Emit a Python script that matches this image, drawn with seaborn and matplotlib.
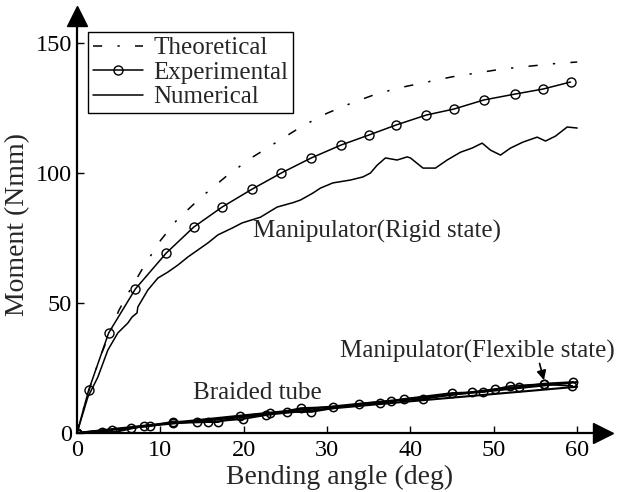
import matplotlib
matplotlib.use('Agg')
import matplotlib.pyplot as plt
import pandas as pd
import seaborn as sns

# --- rigid state -------------------------------------------------------------
theo_x = [0, 1, 2, 3, 4, 5, 6, 8, 10, 12, 15, 18, 21, 24, 27, 30, 33, 36, 39,
          42, 45, 48, 51, 54, 57, 60]
theo_y = [0, 12, 22, 31, 39, 47, 53, 64, 74, 82, 91, 99, 106, 112, 118, 123,
          127, 130.5, 133, 135, 137, 138.5, 140, 141, 142, 142.7]

exp_x = [0, 1.4, 3.8, 7.0, 10.7, 14.0, 17.4, 21.0, 24.5, 28.1, 31.7, 35.0,
         38.3, 41.9, 45.2, 48.8, 52.6, 55.9, 59.2]
exp_y = [0, 16.5, 38.5, 55.4, 69.2, 79.2, 86.9, 93.8, 100.0, 105.8, 110.8,
         114.6, 118.5, 122.3, 124.6, 128.1, 130.4, 132.3, 135.0]

num_x = [0, 1.3, 2.5, 3.7, 4.9, 6.1, 6.6, 7.2, 7.3, 8.5, 9.7, 10.9, 12.1,
         13.3, 14.5, 15.7, 16.9, 18.6, 19.8, 22.0, 24.0, 25.9, 26.8, 28.3,
         29.2, 30.7, 32.8, 34.3, 35.2, 36.0, 37.0, 38.4, 39.6, 40.0, 41.5,
         43.0, 44.4, 46.0, 47.4, 48.6, 49.6, 50.8, 52.0, 53.5, 55.2, 56.2,
         57.4, 58.8, 60.0]
num_y = [0, 13.8, 21.5, 31.9, 38.5, 42.3, 44.6, 46.2, 48.5, 55.0, 59.6, 61.9,
         64.6, 67.7, 70.4, 73.1, 76.2, 78.8, 80.8, 83.0, 86.9, 88.6, 89.6,
         92.3, 94.2, 96.2, 97.3, 98.5, 100.0, 103.0, 105.8, 105.0, 106.2,
         105.8, 101.9, 101.9, 105.0, 108.0, 109.6, 111.5, 108.8, 106.9, 109.6,
         111.9, 113.8, 112.3, 114.2, 117.7, 117.3]

# --- braided tube / flexible state -----------------------------------------
tube_exp_x = [0, 3.0, 4.6, 8.0, 11.5, 15.7, 19.9, 22.7, 26.9, 30.7, 36.4,
              39.2, 45.0, 48.7, 52.0, 56.0, 59.4]
tube_exp_y = [0, 0.4, 0.4, 2.7, 3.8, 4.2, 5.4, 6.9, 9.6, 10.0, 11.5, 13.1,
              15.4, 15.8, 18.1, 18.8, 18.1]
flex_exp_x = [0, 4.2, 6.5, 8.8, 11.5, 14.4, 16.9, 19.6, 23.2, 25.2, 28.1,
              33.8, 37.7, 41.5, 47.4, 50.2, 53.0, 56.0, 59.5]
flex_exp_y = [0, 1.2, 1.9, 2.7, 4.4, 4.2, 4.2, 6.5, 7.7, 8.1, 8.1, 11.2,
              12.3, 13.1, 15.8, 16.9, 17.7, 19.0, 19.6]
tube_num_x = [0, 10, 20, 30, 40, 50, 60]
tube_num_y = [0, 3.2, 6.2, 9.3, 12.2, 15.0, 17.8]
flex_num_x = [0, 10, 20, 30, 40, 50, 60]
flex_num_y = [0, 3.5, 6.8, 10.0, 13.2, 16.3, 19.6]

sns.set_style('ticks')
plt.rcParams['font.family'] = ['Liberation Serif', 'DejaVu Serif']
plt.rcParams['xtick.direction'] = 'in'
plt.rcParams['ytick.direction'] = 'in'

fig = plt.figure(figsize=(6.19, 4.92), dpi=100)
ax = fig.add_axes([0.1244, 0.1199, 0.8498, 0.8476])

dash = (0, (6, 10, 1.5, 10))
sns.lineplot(x=theo_x, y=theo_y, ax=ax, color='k', lw=1.1,
             linestyle=dash, label='Theoretical')
sns.lineplot(x=exp_x, y=exp_y, ax=ax, color='k', lw=1.1, marker='o',
             markersize=6.5, markerfacecolor='none', markeredgecolor='k',
             markeredgewidth=1.0, label='Experimental')
sns.lineplot(x=num_x, y=num_y, ax=ax, color='k', lw=1.1, label='Numerical')

for xs, ys in [(tube_exp_x, tube_exp_y), (flex_exp_x, flex_exp_y)]:
    sns.lineplot(x=xs, y=ys, ax=ax, color='k', lw=1.3, marker='o',
                 markersize=6, markerfacecolor='none', markeredgecolor='k',
                 markeredgewidth=1.1, legend=False)
for xs, ys in [(tube_num_x, tube_num_y), (flex_num_x, flex_num_y)]:
    sns.lineplot(x=xs, y=ys, ax=ax, color='k', lw=1.5, legend=False)

ax.set_xlim(0, 63.1)
ax.set_ylim(0, 160.4)
ax.set_xticks([0, 10, 20, 30, 40, 50, 60])
ax.set_yticks([0, 50, 100, 150])
ax.tick_params(axis='both', labelsize=17.5, length=5, width=1, colors='k')
ax.tick_params(axis='x', pad=5)
ax.set_xlabel('Bending angle (deg)', fontsize=20, labelpad=3)
ax.set_ylabel('Moment (Nmm)', fontsize=20, labelpad=4)
sns.despine(ax=ax)
for s in ['left', 'bottom']:
    ax.spines[s].set_linewidth(1.6)
    ax.spines[s].set_color('k')
ax.plot(1, 0, '>k', ms=14, transform=ax.get_yaxis_transform(), clip_on=False)
ax.plot(0, 1, '^k', ms=14, transform=ax.get_xaxis_transform(), clip_on=False)

ax.text(21.1, 77.7, 'Manipulator(Rigid state)', fontsize=18, ha='left', va='center')
ax.text(13.9, 15.4, 'Braided tube', fontsize=18, ha='left', va='center')
ax.text(31.6, 31.2, 'Manipulator(Flexible state)', fontsize=18, ha='left', va='center')
ax.annotate('', xy=(56.1, 19.3), xytext=(55.4, 27.8),
            arrowprops=dict(arrowstyle='-|>', color='k', lw=1.2,
                            mutation_scale=14))

leg = ax.legend(loc='upper left', bbox_to_anchor=(0.021, 0.962),
                borderaxespad=0, fontsize=18, handlelength=2.0,
                handletextpad=0.4, labelspacing=0.08, borderpad=0.2,
                fancybox=False, framealpha=1)
leg.get_frame().set_edgecolor('k')
leg.get_frame().set_linewidth(1.0)

fig.savefig('out.png', dpi=100)
